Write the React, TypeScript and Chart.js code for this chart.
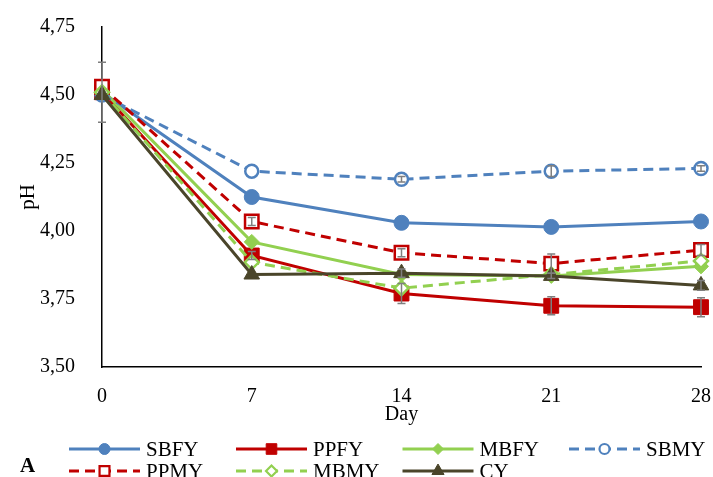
import React, { useEffect, useRef } from 'react';
import { Chart, registerables } from 'chart.js';
import { drawPoint } from 'chart.js/helpers';

Chart.register(...registerables);

const days = ['0', '7', '14', '21', '28'];
const yTicks = [3.5, 3.75, 4.0, 4.25, 4.5, 4.75];

const seriesNames = ['SBFY', 'PPFY', 'MBFY', 'SBMY', 'PPMY', 'MBMY', 'CY'];
const SBFY = [4.51, 4.125, 4.03, 4.015, 4.035];
const PPFY = [4.51, 3.91, 3.77, 3.725, 3.72];
const MBFY = [4.52, 3.96, 3.84, 3.835, 3.87];
const SBMY = [4.50, 4.22, 4.19, 4.22, 4.23];
const PPMY = [4.53, 4.035, 3.92, 3.88, 3.93];
const MBMY = [4.51, 3.885, 3.79, 3.84, 3.89];
const CY = [4.50, 3.84, 3.845, 3.835, 3.80];

const SBFY_err = [0.11, 0.0, 0.0, 0.0, 0.0];
const PPFY_err = [0.0, 0.015, 0.037, 0.033, 0.035];
const MBFY_err = [0.0, 0.0, 0.0, 0.0, 0.0];
const SBMY_err = [0.0, 0.0, 0.01, 0.02, 0.01];
const PPMY_err = [0.0, 0.015, 0.015, 0.035, 0.02];
const MBMY_err = [0.0, 0.0, 0.0, 0.0, 0.0];
const CY_err = [0.0, 0.0, 0.015, 0.01, 0.018];

const BLUE = '#4F81BD';
const RED = '#C00000';
const GREEN = '#92D050';
const OLIVE = '#4A452A';
const SERIF = "'Liberation Serif', 'DejaVu Serif', serif";

type Style = {
  color: string;
  dashed: boolean;
  pointStyle: string;
  radius: number;
  legendRadius: number;
  hollow: boolean;
};

const styles: Style[] = [
  { color: BLUE, dashed: false, pointStyle: 'circle', radius: 7.5, legendRadius: 5.5, hollow: false },
  { color: RED, dashed: false, pointStyle: 'rect', radius: 10.5, legendRadius: 7.5, hollow: false },
  { color: GREEN, dashed: false, pointStyle: 'rectRot', radius: 7.5, legendRadius: 5.5, hollow: false },
  { color: BLUE, dashed: true, pointStyle: 'circle', radius: 6.5, legendRadius: 5, hollow: true },
  { color: RED, dashed: true, pointStyle: 'rect', radius: 9.5, legendRadius: 7, hollow: true },
  { color: GREEN, dashed: true, pointStyle: 'rectRot', radius: 7, legendRadius: 5.5, hollow: true },
  { color: OLIVE, dashed: false, pointStyle: 'triangle', radius: 9, legendRadius: 7, hollow: false },
];

const values = [SBFY, PPFY, MBFY, SBMY, PPMY, MBMY, CY];
const errors = [SBFY_err, PPFY_err, MBFY_err, SBMY_err, PPMY_err, MBMY_err, CY_err];
const DASH = [10, 6];

const errorBarPlugin = {
  id: 'errorBars',
  afterDatasetsDraw(chart: any) {
    const ctx = chart.ctx;
    const xs = chart.scales.x;
    const ys = chart.scales.y;
    ctx.save();
    ctx.strokeStyle = '#7F7F7F';
    ctx.lineWidth = 1.5;
    ctx.setLineDash([]);
    errors.forEach((errs, si) => {
      errs.forEach((e, i) => {
        if (!e) return;
        const x = xs.getPixelForValue(i);
        const yTop = ys.getPixelForValue(values[si][i] + e);
        const yBot = ys.getPixelForValue(values[si][i] - e);
        ctx.beginPath();
        ctx.moveTo(x, yTop);
        ctx.lineTo(x, yBot);
        ctx.moveTo(x - 4, yTop);
        ctx.lineTo(x + 4, yTop);
        ctx.moveTo(x - 4, yBot);
        ctx.lineTo(x + 4, yBot);
        ctx.stroke();
      });
    });
    ctx.restore();
  },
};

const legendPlugin = {
  id: 'customLegend',
  afterDraw(chart: any) {
    const ctx = chart.ctx;
    const colX = [69, 236, 402.5, 569];
    const rowY = [449, 471];
    const lineLen = 71;
    ctx.save();
    seriesNames.forEach((name, i) => {
      const st = styles[i];
      const col = i % 4;
      const row = Math.floor(i / 4);
      const x0 = colX[col];
      const y = rowY[row];
      ctx.strokeStyle = st.color;
      ctx.lineWidth = 3;
      ctx.setLineDash(st.dashed ? DASH : []);
      ctx.beginPath();
      ctx.moveTo(x0, y);
      ctx.lineTo(x0 + lineLen, y);
      ctx.stroke();
      ctx.setLineDash([]);
      ctx.fillStyle = st.hollow ? '#FFFFFF' : st.color;
      ctx.strokeStyle = st.color;
      ctx.lineWidth = st.hollow ? 2.2 : 1;
      drawPoint(ctx, { pointStyle: st.pointStyle as any, radius: st.legendRadius, rotation: 0, borderWidth: st.hollow ? 2.2 : 1 } as any, x0 + lineLen / 2, y);
      ctx.fillStyle = '#000';
      ctx.font = `21px ${SERIF}`;
      ctx.textAlign = 'left';
      ctx.textBaseline = 'middle';
      ctx.fillText(name, x0 + lineLen + 6, y + 1);
    });
    ctx.font = `bold 21px ${SERIF}`;
    ctx.fillStyle = '#000';
    ctx.textAlign = 'left';
    ctx.textBaseline = 'middle';
    ctx.fillText('A', 20, 467);
    ctx.restore();
  },
};

export default function App() {
  const ref = useRef<HTMLCanvasElement | null>(null);
  useEffect(() => {
    document.body.style.margin = '0';
    if (!ref.current) return;
    const datasets = seriesNames.map((name, i) => {
      const st = styles[i];
      return {
        label: name,
        data: values[i],
        borderColor: st.color,
        backgroundColor: st.color,
        borderWidth: 3,
        borderDash: st.dashed ? DASH : [],
        borderCapStyle: 'butt' as const,
        tension: 0,
        pointStyle: st.pointStyle as any,
        pointRadius: st.radius,
        pointHoverRadius: st.radius,
        pointBackgroundColor: st.hollow ? '#FFFFFF' : st.color,
        pointBorderColor: st.color,
        pointBorderWidth: st.hollow ? 2.5 : 1,
        order: seriesNames.length - 1 - i,
      };
    });
    const chart = new Chart(ref.current, {
      type: 'line',
      data: { labels: days, datasets },
      options: {
        responsive: false,
        animation: false,
        devicePixelRatio: 1,
        layout: { padding: { left: 12, right: 11, top: 27, bottom: 50 } },
        plugins: { legend: { display: false }, tooltip: { enabled: false } },
        scales: {
          x: {
            type: 'category',
            offset: false,
            afterFit: (s: any) => { s.height = 60; s.paddingRight = 0; s.paddingLeft = 0; },
            grid: { display: false },
            border: { display: true, color: '#000', width: 1.5 },
            ticks: { color: '#000', font: { family: SERIF, size: 20 }, padding: 10, maxRotation: 0 },
            title: { display: true, text: 'Day', color: '#000', font: { family: SERIF, size: 20 }, padding: { top: 0, bottom: 0 } },
          },
          y: {
            min: 3.5,
            max: 4.75,
            afterFit: (s: any) => { s.width = 90; s.paddingTop = 0; s.paddingBottom = 0; },
            afterBuildTicks: (s: any) => { s.ticks = yTicks.map((v) => ({ value: v })); },
            grid: { display: false },
            border: { display: true, color: '#000', width: 1.5 },
            ticks: {
              color: '#000',
              font: { family: SERIF, size: 20 },
              padding: 19,
              callback: (v: any) => Number(v).toFixed(2).replace('.', ','),
            },
            title: { display: true, text: 'pH', color: '#000', font: { family: SERIF, size: 21 }, padding: { top: 4, bottom: 0 } },
          },
        },
      },
      plugins: [errorBarPlugin, legendPlugin],
    });
    return () => chart.destroy();
  }, []);
  return (
    <div style={{ width: 713, height: 477, background: '#fff' }}>
      <canvas ref={ref} width={713} height={477} />
    </div>
  );
}
